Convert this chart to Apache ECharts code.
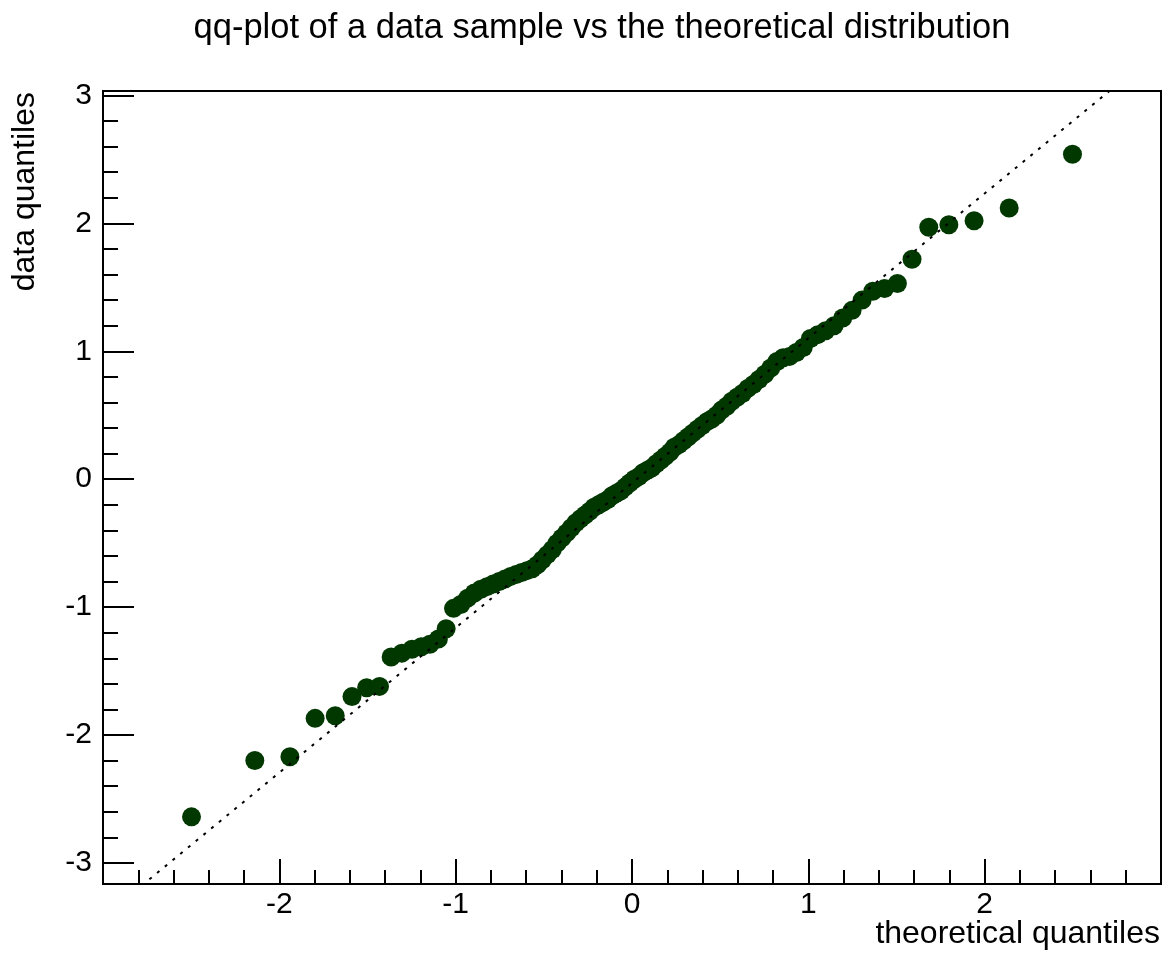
<!DOCTYPE html>
<html>
<head>
<meta charset="utf-8">
<script src="https://cdn.jsdelivr.net/npm/echarts@6/dist/echarts.min.js"></script>
<style>
  html, body { margin: 0; padding: 0; background: #fff; }
  #chart { width: 1162px; height: 953px; }
</style>
</head>
<body>
<div id="chart"></div>
<script>
// ---- data ----
var titleText = 'qq-plot of a data sample vs the theoretical distribution';
var xAxisTitle = 'theoretical quantiles';
var yAxisTitle = 'data quantiles';

// theoretical quantiles (x of each point)
var theoreticalQ = [
  -2.498, -2.139, -1.940, -1.797, -1.683, -1.588, -1.505, -1.432, -1.366, -1.305,
  -1.248, -1.195, -1.146, -1.098, -1.054, -1.012, -0.971, -0.932, -0.894, -0.857,
  -0.822, -0.787, -0.753, -0.720, -0.688, -0.657, -0.626, -0.596, -0.566, -0.537,
  -0.508, -0.480, -0.452, -0.425, -0.398, -0.371, -0.344, -0.318, -0.292, -0.266,
  -0.240, -0.215, -0.189, -0.164, -0.138, -0.113, -0.088, -0.063, -0.038, -0.013,
  0.013, 0.038, 0.063, 0.088, 0.113, 0.138, 0.164, 0.189, 0.215, 0.240,
  0.266, 0.292, 0.318, 0.344, 0.371, 0.398, 0.425, 0.452, 0.480, 0.508,
  0.537, 0.566, 0.596, 0.626, 0.657, 0.688, 0.720, 0.753, 0.787, 0.822,
  0.857, 0.894, 0.932, 0.971, 1.012, 1.054, 1.098, 1.146, 1.195, 1.248,
  1.305, 1.366, 1.432, 1.505, 1.588, 1.683, 1.797, 1.940, 2.139, 2.498
];
// data quantiles (y of each point)
var dataQ = [
  -2.64, -2.20, -2.17, -1.87, -1.85, -1.70, -1.63, -1.62, -1.39, -1.36,
  -1.33, -1.31, -1.29, -1.25, -1.17, -1.01, -0.98, -0.93, -0.89, -0.86,
  -0.84, -0.82, -0.80, -0.78, -0.76, -0.745, -0.73, -0.715, -0.70, -0.67,
  -0.63, -0.59, -0.55, -0.50, -0.46, -0.42, -0.38, -0.34, -0.31, -0.28,
  -0.25, -0.22, -0.20, -0.18, -0.16, -0.13, -0.11, -0.09, -0.06, -0.03,
  0.00, 0.02, 0.05, 0.07, 0.09, 0.12, 0.15, 0.18, 0.21, 0.25,
  0.27, 0.30, 0.33, 0.36, 0.39, 0.42, 0.45, 0.47, 0.50, 0.54,
  0.57, 0.61, 0.64, 0.67, 0.71, 0.74, 0.78, 0.82, 0.87, 0.92,
  0.95, 0.96, 0.99, 1.03, 1.10, 1.13, 1.16, 1.20, 1.26, 1.32,
  1.40, 1.47, 1.49, 1.53, 1.72, 1.97, 1.99, 2.02, 2.12, 2.54
];

// reference (dashed) line endpoints
var refLineX = [-3.0, 3.0];
var refLineY = [-3.426, 3.366];

// axis ranges and ticks
var xRange = [-3.0, 3.0];
var yRange = [-3.165, 3.035];
var xMajorTicks = [-2, -1, 0, 1, 2];
var xTickLabels = [-2, -1, 0, 1, 2];
var xMinorTicks = [-2.8, -2.6, -2.4, -2.2, -1.8, -1.6, -1.4, -1.2, -0.8, -0.6, -0.4, -0.2,
                   0.2, 0.4, 0.6, 0.8, 1.2, 1.4, 1.6, 1.8, 2.2, 2.4, 2.6, 2.8];
var yMajorTicks = [-3, -2, -1, 0, 1, 2, 3];
var yTickLabels = [-3, -2, -1, 0, 1, 2, 3];
var yMinorTicks = [-2.8, -2.6, -2.4, -2.2, -1.8, -1.6, -1.4, -1.2, -0.8, -0.6, -0.4, -0.2,
                   0.2, 0.4, 0.6, 0.8, 1.2, 1.4, 1.6, 1.8, 2.2, 2.4, 2.6, 2.8];

// ---- chart ----
var FONT = '"Liberation Sans", Arial, Helvetica, sans-serif';
var points = theoreticalQ.map(function (x, i) { return [x, dataQ[i]]; });
var refLine = refLineX.map(function (x, i) { return [x, refLineY[i]]; });

var chart = echarts.init(document.getElementById('chart'), null, { renderer: 'canvas' });

function majorAxis(range, ticks, labels, tickLen, labelMargin, pos) {
  return {
    type: 'value', min: range[0], max: range[1], position: pos,
    axisLine: { show: true, onZero: false, lineStyle: { color: '#000', width: 2 } },
    axisTick: { show: true, inside: true, length: tickLen, customValues: ticks,
                lineStyle: { color: '#000', width: 2 } },
    axisLabel: { show: true, customValues: labels, margin: labelMargin, fontSize: 30,
                 fontFamily: FONT, color: '#000', showMinLabel: true, showMaxLabel: true },
    splitLine: { show: false },
    minorTick: { show: false }
  };
}
function minorAxis(range, ticks, tickLen, pos) {
  return {
    type: 'value', min: range[0], max: range[1], position: pos,
    axisLine: { show: false, onZero: false },
    axisTick: { show: true, inside: true, length: tickLen, customValues: ticks,
                lineStyle: { color: '#000', width: 2 } },
    axisLabel: { show: false },
    splitLine: { show: false }
  };
}

chart.setOption({
  backgroundColor: '#ffffff',
  animation: false,
  grid: { left: 103, right: 1, top: 91, bottom: 69, show: true,
          borderColor: '#000', borderWidth: 2, backgroundColor: 'transparent' },
  xAxis: [
    majorAxis(xRange, xMajorTicks, xTickLabels, 25, 6, 'bottom'),
    minorAxis(xRange, xMinorTicks, 14, 'bottom')
  ],
  yAxis: [
    majorAxis(yRange, yMajorTicks, yTickLabels, 31, 11, 'left'),
    minorAxis(yRange, yMinorTicks, 15, 'left')
  ],
  graphic: [
    { type: 'text', x: 602, y: 28, silent: true,
      style: { text: titleText, font: '34.5px ' + FONT, fill: '#000',
               textAlign: 'center', textVerticalAlign: 'middle' } },
    { type: 'text', x: 1160, y: 934, silent: true,
      style: { text: xAxisTitle, font: '32px ' + FONT, fill: '#000',
               textAlign: 'right', textVerticalAlign: 'middle' } },
    { type: 'text', x: 25, y: 92, rotation: Math.PI / 2, silent: true,
      style: { text: yAxisTitle, font: '32px ' + FONT, fill: '#000',
               textAlign: 'right', textVerticalAlign: 'middle' } }
  ],
  series: [
    {
      type: 'scatter', xAxisIndex: 0, yAxisIndex: 0,
      data: points, symbol: 'circle', symbolSize: 19,
      itemStyle: { color: '#003800', opacity: 1 },
      z: 2, silent: true
    },
    {
      type: 'line', xAxisIndex: 0, yAxisIndex: 0,
      data: refLine, symbol: 'none', clip: true,
      lineStyle: { color: '#000', width: 2, type: [3, 7] },
      z: 3, silent: true
    }
  ]
});
</script>
</body>
</html>
